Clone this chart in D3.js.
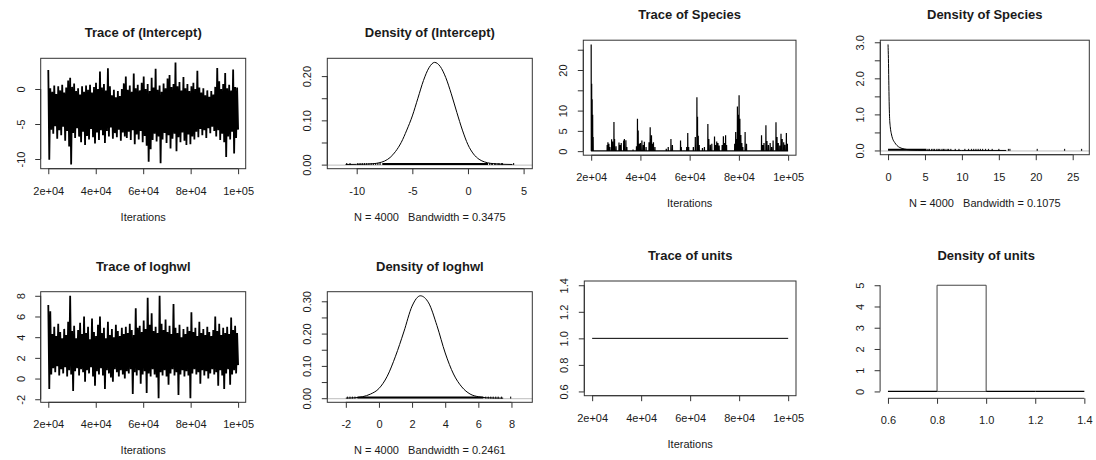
<!DOCTYPE html>
<html>
<head>
<meta charset="utf-8">
<script src="https://cdn.jsdelivr.net/npm/d3@7"></script>
<style>
  html, body { margin: 0; padding: 0; background: #fff; }
  svg { display: block; font-family: "Liberation Sans", Arial, sans-serif; }
</style>
</head>
<body>
<svg id="chart" width="1096" height="460"></svg>
<script>
// ---------------- MCMC output (thinned chains, iterations 20001..100000) ----------------
const iterRange = [20000, 100000];
const traceTicks = [20000, 40000, 60000, 80000, 100000];
const traceTickLabels = ["2e+04", "4e+04", "6e+04", "8e+04", "1e+05"];

// (Intercept): per-slice upper and lower draws of the chain
const interceptHigh = [2.7, 0.1, -0.4, 0.5, -0.7, 0.4, -0.2, 0.6, -0.5, 0.2, 1.2, 1.6, 0.3, 0.8, -0.3, 0.1,
  -0.8, 0.4, -0.4, 0.5, -0.1, 0.6, -0.5, 0.3, 0.9, 0.0, 2.5, 0.2, 0.7, -0.2, 2.95, 0.4,
  -0.9, -0.1, -1.2, -0.3, -1.0, 0.0, 0.8, 1.8, -0.1, 0.5, -0.4, 2.2, 0.1, 0.6, -0.2, 0.9,
  1.8, 0.0, 0.7, -0.3, 1.6, 0.2, 2.9, -0.1, 0.5, -0.4, 0.8, 0.1, 1.5, 2.0, 0.3, 0.7,
  3.8, 0.4, 1.0, -0.2, 1.7, 0.1, 0.7, -0.3, 0.4, 0.9, 0.0, 2.6, 0.2, -0.5, 0.1, -0.9,
  -0.2, -1.1, -0.3, -0.8, 0.3, 3.0, 1.1, 0.0, 0.7, 2.3, 0.1, 0.6, -0.2, 2.8, 0.3, 0.2];
const interceptLow = [-10.1, -5.8, -6.4, -5.3, -7.1, -5.9, -6.6, -5.4, -7.4, -6.0, -8.2, -10.8, -6.3, -7.0, -5.6, -6.8,
  -7.6, -6.1, -8.0, -6.7, -7.2, -5.7, -6.9, -7.8, -6.2, -7.3, -5.9, -6.6, -7.7, -6.0, -6.8, -5.5,
  -7.1, -6.3, -6.9, -5.8, -7.4, -6.2, -6.8, -7.0, -6.1, -7.3, -5.9, -7.9, -6.5, -7.2, -6.0, -7.6,
  -6.7, -8.1, -10.4, -8.6, -7.3, -6.4, -7.5, -6.8, -10.6, -7.2, -6.3, -7.7, -6.6, -8.5, -7.1, -6.4,
  -8.9, -6.9, -7.6, -6.2, -7.4, -8.0, -6.5, -7.9, -6.8, -7.2, -6.1, -6.9, -5.7, -6.6, -5.9, -7.0,
  -5.6, -6.3, -5.4, -6.0, -6.8, -5.9, -7.3, -6.4, -7.6, -9.7, -6.8, -7.2, -6.1, -9.2, -7.0, -5.8];

// loghwl: per-slice upper and lower draws of the chain
const loghwlHigh = [7.1, 6.5, 4.3, 5.0, 4.1, 5.3, 4.5, 3.9, 4.8, 4.2, 5.5, 8.0, 4.6, 5.1, 3.9, 4.7,
  5.4, 4.3, 6.0, 4.4, 5.0, 3.8, 5.8, 4.5, 4.1, 5.2, 6.0, 4.4, 4.9, 3.9, 5.5, 4.2,
  4.8, 4.0, 5.2, 4.6, 4.1, 4.9, 4.3, 5.0, 4.4, 5.3, 4.7, 4.2, 6.8, 4.9, 5.1, 4.5,
  5.6, 4.8, 7.8, 5.2, 6.3, 4.6, 5.0, 4.4, 8.0, 5.3, 4.7, 5.7, 4.5, 5.1, 4.3, 7.2,
  4.9, 4.4, 5.2, 4.0, 4.8, 4.3, 5.0, 4.6, 6.4, 4.5, 4.9, 4.1, 5.5, 4.4, 4.8, 4.2,
  5.0, 4.5, 4.1, 4.7, 6.0, 4.6, 5.3, 4.2, 4.9, 4.4, 5.0, 4.3, 5.9, 4.7, 5.1, 4.4];
const loghwlLow = [-1.0, 0.4, 1.0, 0.6, 1.2, 0.3, 0.9, 0.5, 1.1, 0.2, 0.8, 0.4, -1.2, 0.7, 1.0, 0.3,
  0.9, 0.6, -0.3, 0.8, 0.5, 1.1, 0.2, -0.7, 0.7, 0.4, 1.0, 0.3, -1.0, 0.8, 0.5, 0.1,
  -0.3, 0.9, 0.6, 0.2, 0.8, 0.4, 0.0, 0.7, 0.5, 0.9, -1.5, 0.6, 0.3, 0.8, -0.5, 0.4,
  0.7, -1.4, 0.5, 0.2, 0.9, 0.4, 0.1, -1.9, 0.6, 0.3, 0.8, 0.2, -0.6, 0.5, 0.9, 0.3,
  0.6, -1.6, 0.4, 0.8, 0.2, 0.7, 0.3, -1.9, 0.5, 0.9, 0.4, 0.6, -0.5, 0.8, 0.3, 0.7,
  0.0, 0.5, 0.9, 0.4, 0.6, -0.7, 0.8, 0.3, -1.0, 0.5, 0.9, -0.6, 0.4, 0.8, 0.5, 1.3];

// Species variance component: excursions away from its near-zero floor
const speciesFloor = 0.05;
const speciesSpikeIter = [20000, 20200, 20400, 20600, 20800, 26500, 26800, 27200, 27600, 28300, 28700, 29250, 29500,
  30100, 31300, 31700, 32200, 33200, 33500, 34100, 34500, 37000, 38400, 38800, 39100, 39500, 40000, 40600,
  41200, 41600, 42300, 43500, 43970, 44500, 44900, 45300, 45900, 50500, 51300, 52400, 53000, 56300, 56600,
  58800, 59230, 59600, 61500, 62300, 62950, 63200, 63500, 63900, 65200, 66000, 67400, 67800, 68400, 69000,
  70100, 70600, 71000, 71500, 72000, 73200, 73700, 74200, 74600, 75000, 78300, 78700, 79100, 79400, 79700,
  80080, 80400, 80800, 81200, 81600, 82530, 83100, 89200, 89700, 90200, 90980, 91400, 92000, 92700, 93300,
  93900, 95070, 95500, 96000, 96600, 97110, 97600, 98200, 98700, 99290, 99700];
const speciesSpikeValue = [26.3, 16.6, 12.8, 9.0, 3.5, 1.5, 2.2, 1.8, 1.0, 2.9, 2.4, 7.2, 3.0,
  1.2, 2.1, 1.5, 2.0, 2.6, 3.0, 2.7, 1.0, 0.4, 1.2, 8.0, 5.1, 1.8, 2.0, 2.6,
  1.5, 2.3, 1.0, 2.2, 5.9, 3.9, 1.8, 2.2, 1.0, 0.6, 1.0, 3.0, 1.5, 2.6, 1.0,
  1.0, 4.5, 1.0, 1.0, 3.5, 13.3, 8.5, 3.8, 1.5, 0.8, 1.0, 6.7, 3.0, 1.6, 1.8,
  3.6, 1.5, 2.4, 2.0, 1.4, 1.5, 3.7, 2.0, 3.9, 1.5, 1.8, 4.7, 3.0, 11.0, 9.0,
  13.8, 8.0, 4.0, 2.0, 1.0, 4.7, 1.8, 3.9, 1.5, 2.0, 6.4, 2.5, 1.5, 2.0, 1.0,
  2.6, 7.1, 3.5, 2.0, 1.4, 4.3, 3.0, 2.2, 1.6, 4.5, 1.8];

// units: fixed at 1 for the whole run
const unitsIter = [20000, 100000];
const unitsDraw = [1, 1];

// ---------------- kernel density estimates ----------------
const interceptDensX = [-11.96, -11, -10, -9, -8.5, -8, -7.5, -7, -6.5, -6, -5.5, -5, -4.5, -4, -3.5, -3,
  -2.5, -2, -1.5, -1, -0.5, 0, 0.5, 1, 1.5, 2, 2.5, 3, 4, 5.1];
const interceptDensY = [0, 0.0003, 0.0006, 0.0012, 0.002, 0.004, 0.008, 0.016, 0.030, 0.050, 0.078, 0.110, 0.150, 0.190, 0.219, 0.231,
  0.222, 0.197, 0.160, 0.118, 0.078, 0.045, 0.024, 0.012, 0.006, 0.003, 0.0015, 0.0008, 0.0003, 0];

const loghwlDensX = [-2.66, -2, -1.5, -1, -0.5, 0, 0.5, 1, 1.5, 2, 2.5, 3, 3.5, 4, 4.5, 5, 5.5, 6, 6.5, 7, 7.5, 8.8];
const loghwlDensY = [0, 0.0003, 0.0012, 0.0045, 0.013, 0.030, 0.068, 0.130, 0.205, 0.285, 0.317, 0.295, 0.225, 0.140, 0.075,
  0.035, 0.013, 0.0045, 0.0014, 0.0005, 0.0002, 0];

const speciesDensX = [0, 0.05, 0.1, 0.15, 0.2, 0.3, 0.45, 0.6, 0.9, 1.2, 1.6, 2.2, 3, 4, 6, 10, 16, 26.2];
const speciesDensY = [2.94, 2.55, 1.95, 1.35, 0.95, 0.66, 0.46, 0.34, 0.22, 0.14, 0.08, 0.04, 0.015, 0.006, 0.002, 0.001, 0.0005, 0];

// units histogram (density scale)
const unitsBreaks = [0.6, 0.8, 1.0, 1.2, 1.4];
const unitsDensity = [0, 5, 0, 0];

// observation rugs: solid core span plus isolated draws in the tails
const interceptRugCore = [-7.7, 1.8];
const interceptRugTails = [-10.9, -10.6, -9.9, -9.7, -9.5, -9.3, -9.1, -8.9, -8.7, -8.5, -8.3, -8.1, -7.9,
  1.95, 2.1, 2.2, 2.4, 2.5, 2.7, 2.8, 3.0, 3.1, 4.1];
const loghwlRugCore = [-1.3, 6.3];
const loghwlRugTails = [-1.9, -1.75, -1.6, -1.45, 6.45, 6.6, 6.75, 6.9, 7.05, 7.2, 7.4, 7.95];
const speciesRugCore = [0, 5.2];
const speciesRugTails = [5.4, 5.6, 5.9, 6.1, 6.3, 6.6, 6.8, 7.0, 7.3, 7.5, 7.7, 8.0, 8.2, 8.5, 9.1, 9.6, 10.4, 10.9,
  11.3, 11.6, 11.9, 12.2, 12.5, 12.8, 13.2, 13.6, 14.1, 15.0, 16.3, 16.5, 20.2, 23.9, 26.2];

// ---------------- axis ticks ----------------
const interceptTraceTicks = [0, -5, -10];
const interceptTraceLabels = ["0", "-5", "-10"];
const loghwlTraceTicks = [8, 6, 4, 2, 0, -2];
const loghwlTraceLabels = ["8", "6", "4", "2", "0", "-2"];
const speciesTraceTicks = [0, 5, 10, 15, 20, 25];
const speciesTraceLabels = ["0", "5", "10", "", "20", ""];
const unitsTraceTicks = [0.6, 0.8, 1.0, 1.2, 1.4];
const unitsTraceLabels = ["0.6", "0.8", "1.0", "1.2", "1.4"];

const interceptDensXTicks = [-10, -5, 0, 5];
const interceptDensXLabels = ["-10", "-5", "0", "5"];
const interceptDensYTicks = [0, 0.05, 0.10, 0.15, 0.20];
const interceptDensYLabels = ["0.00", "", "0.10", "", "0.20"];
const loghwlDensXTicks = [-2, 0, 2, 4, 6, 8];
const loghwlDensXLabels = ["-2", "0", "2", "4", "6", "8"];
const loghwlDensYTicks = [0, 0.05, 0.10, 0.15, 0.20, 0.25, 0.30];
const loghwlDensYLabels = ["0.00", "", "0.10", "", "0.20", "", "0.30"];
const speciesDensXTicks = [0, 5, 10, 15, 20, 25];
const speciesDensXLabels = ["0", "5", "10", "15", "20", "25"];
const speciesDensYTicks = [0, 0.5, 1.0, 1.5, 2.0, 2.5, 3.0];
const speciesDensYLabels = ["0.0", "", "1.0", "", "2.0", "", "3.0"];
const unitsDensXTicks = [0.6, 0.8, 1.0, 1.2, 1.4];
const unitsDensXLabels = ["0.6", "0.8", "1.0", "1.2", "1.4"];
const unitsDensYTicks = [0, 1, 2, 3, 4, 5];
const unitsDensYLabels = ["0", "1", "2", "3", "4", "5"];
const unitsTraceLimits = [0.6, 1.4];

// ---------------- drawing ----------------
const svg = d3.select("#chart");
const INK = "#1a1a1a";
const FRAME = "#333";
const TICK_LEN = 5.5;
const NBSP = "\u00a0";

// R-style axis extent: data range widened by 4% on each side
function padded(lo, hi) {
  const p = (hi - lo) * 0.04;
  return [lo - p, hi + p];
}

function panel(box) {
  return svg.append("g").attr("transform", `translate(${box.x},${box.y})`);
}

function frame(g, box) {
  g.append("rect").attr("x", 0).attr("y", 0).attr("width", box.w).attr("height", box.h)
    .attr("fill", "none").attr("stroke", FRAME).attr("stroke-width", 1);
}

function title(g, box, text) {
  g.append("text").attr("x", box.w / 2).attr("y", -25.5)
    .attr("text-anchor", "middle").attr("dominant-baseline", "central")
    .attr("font-size", 13).attr("font-weight", "bold").attr("fill", INK).text(text);
}

function xLabel(g, box, text) {
  g.append("text").attr("x", box.w / 2).attr("y", box.h + 48)
    .attr("text-anchor", "middle").attr("dominant-baseline", "central")
    .attr("font-size", 11).attr("fill", INK).text(text);
}

function bottomAxis(g, scale, ticks, labels, yPos) {
  const a = g.append("g").attr("transform", `translate(0,${yPos})`)
    .call(d3.axisBottom(scale).tickValues(ticks).tickFormat((d, i) => labels[i])
      .tickSize(TICK_LEN).tickSizeOuter(0));
  a.attr("font-size", null).attr("font-family", null).style("color", FRAME);
  a.select(".domain").remove();
  a.append("line").attr("x1", scale(ticks[0])).attr("x2", scale(ticks[ticks.length - 1]))
    .attr("y1", 0).attr("y2", 0).attr("stroke", FRAME);
  a.selectAll(".tick text").attr("y", 22).attr("dy", null)
    .attr("dominant-baseline", "central").attr("font-size", 11).attr("fill", INK);
  return a;
}

function leftAxis(g, scale, ticks, labels, xPos) {
  const a = g.append("g").attr("transform", `translate(${xPos},0)`)
    .call(d3.axisLeft(scale).tickValues(ticks).tickFormat((d, i) => labels[i])
      .tickSize(TICK_LEN).tickSizeOuter(0));
  a.attr("font-size", null).attr("font-family", null).style("color", FRAME);
  a.select(".domain").remove();
  const ext = d3.extent(ticks);
  a.append("line").attr("x1", 0).attr("x2", 0)
    .attr("y1", scale(ext[0])).attr("y2", scale(ext[1])).attr("stroke", FRAME);
  a.selectAll(".tick text").attr("x", null).attr("dy", null)
    .attr("text-anchor", "middle").attr("dominant-baseline", "central")
    .attr("transform", "translate(-20,0) rotate(-90)")
    .attr("font-size", 11).attr("fill", INK);
  return a;
}

// interleave upper / lower slice draws into one chain path
function interleave(high, low) {
  const out = [];
  high.forEach((h, i) => { out.push(h); out.push(low[i]); });
  return out;
}

function chainIters(n) {
  return d3.range(n).map(k => iterRange[0] + k * (iterRange[1] - iterRange[0]) / (n - 1));
}

// chain that rests on a floor value and jumps up at the listed iterations
function spikeChain(iters, values, floor) {
  const it = [], v = [];
  const half = 45;
  iters.forEach((t, i) => {
    const t0 = Math.max(iterRange[0], t - half);
    if (t0 < t) { it.push(t0); v.push(floor); }
    it.push(t); v.push(values[i]);
    it.push(Math.min(iterRange[1], t + half)); v.push(floor);
  });
  if (it[it.length - 1] < iterRange[1]) { it.push(iterRange[1]); v.push(floor); }
  return { it, v };
}

function tracePanel(box, name, iters, draws, yTicks, yLabels, yLim, width) {
  const g = panel(box);
  const x = d3.scaleLinear().domain(padded(iterRange[0], iterRange[1])).range([0, box.w]);
  const ext = yLim || d3.extent(draws);
  const y = d3.scaleLinear().domain(padded(ext[0], ext[1])).range([box.h, 0]);
  const line = d3.line().x((d, i) => x(iters[i])).y(d => y(d));
  g.append("path").datum(draws).attr("d", line)
    .attr("fill", "none").attr("stroke", "#000").attr("stroke-width", width || 1)
    .attr("stroke-linejoin", "bevel");
  frame(g, box);
  bottomAxis(g, x, traceTicks, traceTickLabels, box.h);
  leftAxis(g, y, yTicks, yLabels, 0);
  title(g, box, "Trace of " + name);
  xLabel(g, box, "Iterations");
}

function densityPanel(box, name, dx, dy, rugCore, rugTails, xTicks, xLabels, yTicks, yLabels, caption) {
  const g = panel(box);
  const x = d3.scaleLinear().domain(padded(d3.min(dx), d3.max(dx))).range([0, box.w]);
  const y = d3.scaleLinear().domain(padded(0, d3.max(dy))).range([box.h, 0]);
  // zero reference line
  g.append("line").attr("x1", 0).attr("x2", box.w).attr("y1", y(0) + 0.5).attr("y2", y(0) + 0.5)
    .attr("stroke", "#bdbdbd").attr("stroke-width", 1);
  // rug of observed draws
  g.append("line").attr("x1", x(rugCore[0])).attr("x2", x(rugCore[1]))
    .attr("y1", y(0) - 0.6).attr("y2", y(0) - 0.6).attr("stroke", "#000").attr("stroke-width", 2);
  g.selectAll("rect.rug").data(rugTails).enter().append("rect").attr("class", "rug")
    .attr("x", d => x(d) - 0.6).attr("y", y(0) - 1.6).attr("width", 1.2).attr("height", 2)
    .attr("fill", "#222");
  // density curve
  const pts = dx.map((v, i) => [v, dy[i]]).filter(p => p[1] > 0);
  g.append("path").datum(pts)
    .attr("d", d3.line().x(p => x(p[0])).y(p => y(p[1])).curve(d3.curveMonotoneX))
    .attr("fill", "none").attr("stroke", "#000").attr("stroke-width", 1);
  frame(g, box);
  bottomAxis(g, x, xTicks, xLabels, box.h);
  leftAxis(g, y, yTicks, yLabels, 0);
  title(g, box, "Density of " + name);
  xLabel(g, box, caption);
}

function histPanel(box, name, breaks, dens, xTicks, xLabels, yTicks, yLabels) {
  const g = panel(box);
  const x = d3.scaleLinear().domain(padded(breaks[0], breaks[breaks.length - 1])).range([0, box.w]);
  const y = d3.scaleLinear().domain(padded(0, d3.max(dens))).range([box.h, 0]);
  dens.forEach((d, i) => {
    const p = d3.path();
    p.moveTo(x(breaks[i]), y(0));
    p.lineTo(x(breaks[i]), y(d));
    p.lineTo(x(breaks[i + 1]), y(d));
    p.lineTo(x(breaks[i + 1]), y(0));
    p.closePath();
    g.append("path").attr("d", p.toString()).attr("fill", "none")
      .attr("stroke", d > 0 ? "#444" : "#000").attr("stroke-width", d > 0 ? 1 : 1.3);
  });
  bottomAxis(g, x, xTicks, xLabels, box.h + 2.6);
  leftAxis(g, y, yTicks, yLabels, 0);
  title(g, box, "Density of " + name);
}

// panel regions (plot boxes, in page pixels)
const boxes = {
  traceIntercept: { x: 40.7, y: 58.3, w: 205, h: 110.4 },
  densIntercept:  { x: 327.3, y: 58.3, w: 205, h: 110.4 },
  traceSpecies:   { x: 583.3, y: 40.2, w: 212.7, h: 115 },
  densSpecies:    { x: 880.3, y: 40.2, w: 209, h: 114.5 },
  traceLoghwl:    { x: 40.7, y: 291.7, w: 205, h: 110.6 },
  densLoghwl:     { x: 327.3, y: 291.7, w: 205, h: 110.6 },
  traceUnits:     { x: 584.3, y: 281, w: 211.7, h: 114.7 },
  densUnits:      { x: 880.1, y: 281, w: 212.1, h: 114.7 }
};

const caption = bw => "N = 4000" + NBSP + NBSP + NBSP + "Bandwidth = " + bw;

const interceptChain = interleave(interceptHigh, interceptLow);
const loghwlChain = interleave(loghwlHigh, loghwlLow);
const speciesChain = spikeChain(speciesSpikeIter, speciesSpikeValue, speciesFloor);

tracePanel(boxes.traceIntercept, "(Intercept)", chainIters(interceptChain.length), interceptChain,
  interceptTraceTicks, interceptTraceLabels, null, 1.8);
densityPanel(boxes.densIntercept, "(Intercept)", interceptDensX, interceptDensY, interceptRugCore, interceptRugTails,
  interceptDensXTicks, interceptDensXLabels, interceptDensYTicks, interceptDensYLabels, caption("0.3475"));
tracePanel(boxes.traceSpecies, "Species", speciesChain.it, speciesChain.v,
  speciesTraceTicks, speciesTraceLabels, null, 1.2);
densityPanel(boxes.densSpecies, "Species", speciesDensX, speciesDensY, speciesRugCore, speciesRugTails,
  speciesDensXTicks, speciesDensXLabels, speciesDensYTicks, speciesDensYLabels, caption("0.1075"));
tracePanel(boxes.traceLoghwl, "loghwl", chainIters(loghwlChain.length), loghwlChain,
  loghwlTraceTicks, loghwlTraceLabels, null, 1.8);
densityPanel(boxes.densLoghwl, "loghwl", loghwlDensX, loghwlDensY, loghwlRugCore, loghwlRugTails,
  loghwlDensXTicks, loghwlDensXLabels, loghwlDensYTicks, loghwlDensYLabels, caption("0.2461"));
tracePanel(boxes.traceUnits, "units", unitsIter, unitsDraw, unitsTraceTicks, unitsTraceLabels, unitsTraceLimits);
histPanel(boxes.densUnits, "units", unitsBreaks, unitsDensity, unitsDensXTicks, unitsDensXLabels,
  unitsDensYTicks, unitsDensYLabels);
</script>
</body>
</html>
